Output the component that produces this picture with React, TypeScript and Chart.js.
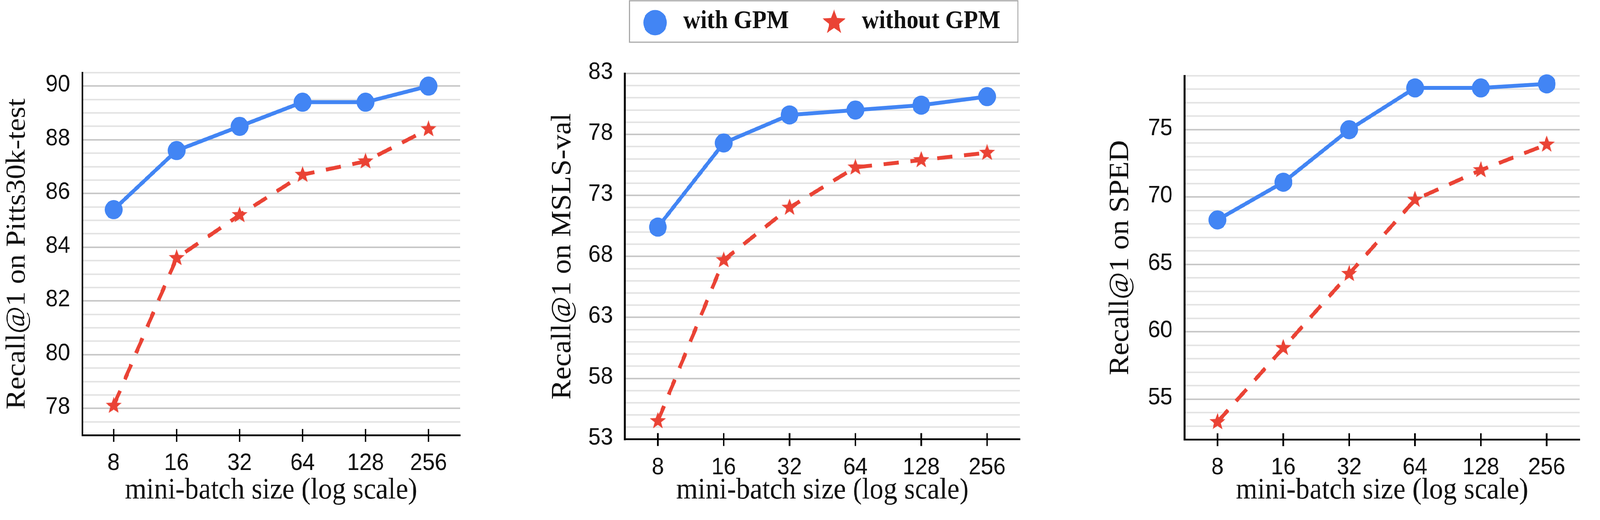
import React, { useEffect, useRef } from 'react';
import { Chart, registerables } from 'chart.js';

Chart.register(...registerables);

// ---------------- data ----------------
const batchSizes = ['8', '16', '32', '64', '128', '256'];
const seriesNames = ['with GPM', 'without GPM'];

const pittsWith = [85.4, 87.6, 88.5, 89.4, 89.4, 90.0];
const pittsWithout = [78.1, 83.6, 85.2, 86.7, 87.2, 88.4];
const mslsWith = [70.4, 77.3, 79.6, 80.0, 80.4, 81.1];
const mslsWithout = [54.5, 67.7, 72.0, 75.3, 75.9, 76.5];
const spedWith = [68.3, 71.1, 75.0, 78.1, 78.1, 78.4];
const spedWithout = [53.3, 58.8, 64.3, 69.8, 72.0, 73.9];

const pittsTickLabels = [78, 80, 82, 84, 86, 88, 90];
const mslsTickLabels = [53, 58, 63, 68, 73, 78, 83];
const spedTickLabels = [55, 60, 65, 70, 75];

const yTitles = ['Recall@1 on Pitts30k-test', 'Recall@1 on MSLS-val', 'Recall@1 on SPED'];
const xTitle = 'mini-batch size (log scale)';

// ---------------- style ----------------
const BLUE = '#4285F4';
const RED = '#EA4335';
const TEXT = '#111111';
const MAJOR_GRID = '#c8c8c8';
const MINOR_GRID = '#e4e4e4';
const SANS = '"Liberation Sans", Arimo, Arial, sans-serif';
const SERIF = '"Liberation Serif", "Times New Roman", Times, serif';
const W = 4400;
const H = 1331;
const STAR_INNER = 0.42;

function drawStarPath(ctx: CanvasRenderingContext2D, cx: number, cy: number, R: number) {
  ctx.beginPath();
  for (let i = 0; i < 10; i++) {
    const r = i % 2 === 0 ? R : R * STAR_INNER;
    const a = -Math.PI / 2 + (i * Math.PI) / 5;
    const x = cx + r * Math.cos(a);
    const y = cy + r * Math.sin(a);
    if (i === 0) ctx.moveTo(x, y);
    else ctx.lineTo(x, y);
  }
  ctx.closePath();
}

function makeStar(R: number, color: string): HTMLCanvasElement {
  const size = Math.ceil(R * 2 + 4);
  const c = document.createElement('canvas');
  c.width = size;
  c.height = size;
  const g = c.getContext('2d')!;
  drawStarPath(g, size / 2, size / 2, R);
  g.fillStyle = color;
  g.fill();
  return c;
}

interface PanelCfg {
  x: number;
  w: number;
  plotLeft: number;
  plotRight: number;
  plotTop: number;
  plotBottom: number;
  yTitleCenter: number;
  min: number;
  max: number;
  step: number;
  tickLabels: number[];
  withData: number[];
  withoutData: number[];
  yTitle: string;
  legend: boolean;
}

const panels: PanelCfg[] = [
  {
    x: 0, w: 1320, plotLeft: 226, plotRight: 1265, plotTop: 186, plotBottom: 1114, yTitleCenter: 48.4,
    min: 77, max: 90.5, step: 0.5, tickLabels: pittsTickLabels,
    withData: pittsWith, withoutData: pittsWithout, yTitle: yTitles[0], legend: false,
  },
  {
    x: 1460, w: 1400, plotLeft: 1718.6, plotRight: 2805, plotTop: 188, plotBottom: 1124.6, yTitleCenter: 1548.5,
    min: 53, max: 83, step: 1, tickLabels: mslsTickLabels,
    withData: mslsWith, withoutData: mslsWithout, yTitle: yTitles[1], legend: true,
  },
  {
    x: 2960, w: 1440, plotLeft: 3257.5, plotRight: 4344, plotTop: 194, plotBottom: 1125, yTitleCenter: 3082.5,
    min: 52, max: 79, step: 1, tickLabels: spedTickLabels,
    withData: spedWith, withoutData: spedWithout, yTitle: yTitles[2], legend: false,
  },
];

const X_TITLE_CENTER = 1256;
const TITLE_SIZE = 76;
const TITLE_LH = TITLE_SIZE * 1.2;

const isLabeled = (v: number, labels: number[]) =>
  Math.abs(v - Math.round(v)) < 1e-6 && labels.includes(Math.round(v));

const xTickMarks = {
  id: 'xTickMarks',
  afterDraw(chart: any) {
    const { ctx, chartArea, scales } = chart;
    const xs = scales.x;
    ctx.save();
    ctx.strokeStyle = '#000';
    ctx.lineWidth = 4.5;
    for (let i = 0; i < xs.ticks.length; i++) {
      const px = xs.getPixelForTick(i);
      ctx.beginPath();
      ctx.moveTo(px, chartArea.bottom - 16);
      ctx.lineTo(px, chartArea.bottom + 17);
      ctx.stroke();
    }
    ctx.restore();
  },
};

function makeLegendPlugin(offsetX: number) {
  return {
    id: 'gpmLegend',
    afterDraw(chart: any) {
      const ctx: CanvasRenderingContext2D = chart.ctx;
      const labels = chart.data.datasets.map((d: any) => d.label);
      ctx.save();
      ctx.translate(-offsetX, 0);
      ctx.font = `bold 65px ${SERIF}`;
      ctx.textBaseline = 'middle';
      ctx.textAlign = 'left';
      const circleCx = 1801.5;
      const text1X = circleCx + 77.5;
      const w1 = ctx.measureText(labels[0]).width;
      const starCx = text1X + w1 + 124;
      const text2X = starCx + 76.5;
      const w2 = ctx.measureText(labels[1]).width;
      ctx.strokeStyle = '#aaaaaa';
      ctx.lineWidth = 3;
      ctx.strokeRect(1731.5, 2, text2X + w2 + 48 - 1731.5, 106);
      ctx.fillStyle = BLUE;
      ctx.beginPath();
      ctx.arc(circleCx, 58, 32.5, 0, Math.PI * 2);
      ctx.fill();
      ctx.fillStyle = RED;
      drawStarPath(ctx, starCx, 57.5, 33.5);
      ctx.fill();
      ctx.fillStyle = TEXT;
      ctx.fillText(labels[0], text1X, 55);
      ctx.fillText(labels[1], text2X, 55);
      ctx.restore();
    },
  };
}

function buildConfig(p: PanelCfg, starImg: HTMLCanvasElement): any {
  const xScaleBottom = X_TITLE_CENTER + TITLE_LH / 2;
  const xScaleHeight = xScaleBottom - p.plotBottom;
  const padBottom = H - xScaleBottom;
  const padRight = p.x + p.w - p.plotRight;
  const yWidth = p.plotLeft - p.x;
  const yTitlePad = p.yTitleCenter - p.x - TITLE_LH / 2;

  return {
    type: 'line',
    data: {
      labels: batchSizes,
      datasets: [
        {
          label: seriesNames[0],
          data: p.withData,
          borderColor: BLUE,
          backgroundColor: BLUE,
          borderWidth: 10,
          pointStyle: 'circle',
          pointRadius: 24.5,
          pointHoverRadius: 24.5,
          pointBackgroundColor: BLUE,
          pointBorderWidth: 0,
          tension: 0,
          fill: false,
          clip: false,
        },
        {
          label: seriesNames[1],
          data: p.withoutData,
          borderColor: RED,
          backgroundColor: RED,
          borderWidth: 10,
          borderDash: [42, 32],
          pointStyle: starImg,
          pointRadius: 23,
          pointHoverRadius: 23,
          pointBorderWidth: 0,
          tension: 0,
          fill: false,
          clip: false,
        },
      ],
    },
    options: {
      animation: false,
      responsive: false,
      devicePixelRatio: 1,
      events: [],
      layout: { padding: { left: 0, right: padRight, top: p.plotTop, bottom: padBottom } },
      plugins: { legend: { display: false }, tooltip: { enabled: false }, title: { display: false } },
      scales: {
        x: {
          type: 'category',
          offset: true,
          grid: { display: false },
          border: { display: true, color: '#000', width: 4.5 },
          ticks: {
            color: TEXT,
            font: { family: SANS, size: 61, lineHeight: 1.2 },
            padding: 28,
            maxRotation: 0,
            minRotation: 0,
            autoSkip: false,
          },
          title: {
            display: true,
            text: xTitle,
            color: TEXT,
            font: { family: SERIF, size: TITLE_SIZE, lineHeight: 1.2 },
            padding: 0,
          },
          afterFit: (s: any) => {
            s.height = xScaleHeight;
          },
        },
        y: {
          type: 'linear',
          min: p.min,
          max: p.max,
          grid: {
            drawTicks: false,
            lineWidth: 4,
            color: (c: any) => {
              const v = c.tick ? c.tick.value : NaN;
              if (Math.abs(v - p.min) < 1e-6) return 'rgba(0,0,0,0)';
              return isLabeled(v, p.tickLabels) ? MAJOR_GRID : MINOR_GRID;
            },
          },
          border: { display: true, color: '#000', width: 5 },
          ticks: {
            stepSize: p.step,
            autoSkip: false,
            maxTicksLimit: 500,
            color: TEXT,
            font: { family: SANS, size: 61, lineHeight: 1.2 },
            padding: 33,
            labelOffset: -3,
            callback: (v: any) => (isLabeled(Number(v), p.tickLabels) ? String(Math.round(Number(v))) : ''),
          },
          title: {
            display: true,
            text: p.yTitle,
            color: TEXT,
            font: { family: SERIF, size: TITLE_SIZE, lineHeight: 1.2 },
            padding: { top: yTitlePad, bottom: 0 },
          },
          afterFit: (s: any) => {
            s.width = yWidth;
          },
        },
      },
    },
    plugins: p.legend ? [xTickMarks, makeLegendPlugin(p.x)] : [xTickMarks],
  };
}

function Panel({ p }: { p: PanelCfg }) {
  const ref = useRef<HTMLCanvasElement>(null);
  useEffect(() => {
    if (!ref.current) return;
    const star = makeStar(23, RED);
    const chart = new Chart(ref.current, buildConfig(p, star));
    return () => chart.destroy();
  }, [p]);
  return (
    <canvas
      ref={ref}
      width={p.w}
      height={H}
      style={{ position: 'absolute', left: p.x, top: 0, width: p.w, height: H }}
    />
  );
}

export default function App() {
  // The browser viewport may be narrower than the 4400px design; squeeze horizontally to fit it.
  const vw = typeof window !== 'undefined' ? window.innerWidth : W;
  const sx = Math.min(1, vw / W);
  return (
    <div
      style={{
        position: 'absolute',
        left: 0,
        top: 0,
        width: Math.round(W * sx),
        height: H,
        overflow: 'hidden',
        background: '#ffffff',
      }}
    >
      <div
        style={{
          position: 'absolute',
          left: 0,
          top: 0,
          width: W,
          height: H,
          background: '#ffffff',
          transform: `scaleX(${sx})`,
          transformOrigin: '0 0',
        }}
      >
        {panels.map((p, i) => (
          <Panel key={i} p={p} />
        ))}
      </div>
    </div>
  );
}
